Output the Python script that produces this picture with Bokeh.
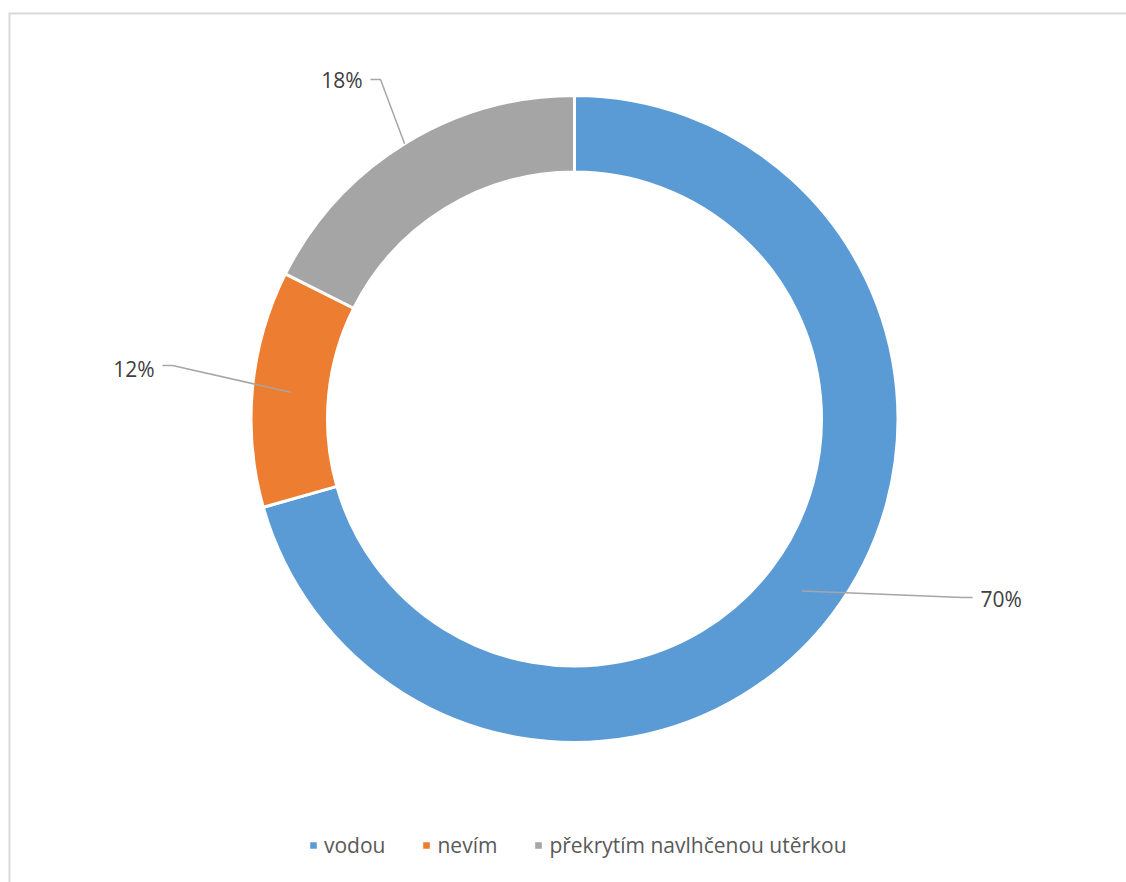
import math
from bokeh.plotting import figure
from bokeh.models import Range1d, ColumnDataSource, Legend, LegendItem
from bokeh.core.properties import value
from bokeh.embed import file_html
from bokeh.resources import INLINE

# ---- data ----
categories = ["vodou", "nevím", "překrytím navlhčenou utěrkou"]
shares = [70.6, 11.8, 17.6]
labels = ["70%", "12%", "18%"]
colors = ["#5B9BD5", "#ED7D31", "#A5A5A5"]

# ---- layout (page pixel coordinates) ----
W, H = 1126, 882
PAGE_H = 882
CX, CY = 574, 418.5
R_OUT, R_IN = 323.5, 247
FONT = "Open Sans"

def py(y):
    return PAGE_H - y

p = figure(width=W, height=H, output_backend="svg", toolbar_location=None,
           x_range=Range1d(0, W), y_range=Range1d(0, H),
           min_border=0, outline_line_color=None)
p.axis.visible = False
p.grid.visible = False

# chart-area border (left and top edges)
p.segment(x0=[9, 8], y0=[py(13), py(13)], x1=[9, W], y1=[0, py(13)],
          line_color="#D9D9D9", line_width=2)

total = sum(shares)
starts, ends, mids = [], [], []
cum = 0.0
for s in shares:
    a0 = math.pi / 2 - 2 * math.pi * cum / total
    cum += s
    a1 = math.pi / 2 - 2 * math.pi * cum / total
    starts.append(a0)
    ends.append(a1)
    mids.append((a0 + a1) / 2)

src = ColumnDataSource(dict(x=[CX] * 3, y=[py(CY)] * 3, start=starts, end=ends,
                            color=colors, cat=categories))
r = p.annular_wedge(x="x", y="y", inner_radius=R_IN, outer_radius=R_OUT,
                    start_angle="start", end_angle="end", direction="clock",
                    fill_color="color", line_color="white", line_width=3, source=src)

# leader lines + data labels
leader_r = [(R_IN + R_OUT) / 2, (R_IN + R_OUT) / 2, R_OUT]
elbow = [(962, 597, 972, 597), (172, 365, 162, 365), (380, 79, 370, 79)]
lab_pos = [(980, 598, "left"), (154, 368, "right"), (362, 79, "right")]
for i in range(3):
    sx = CX + leader_r[i] * math.cos(mids[i])
    sy = py(CY) + leader_r[i] * math.sin(mids[i])
    ex0, ey0, ex1, ey1 = elbow[i]
    p.line(x=[sx, ex0, ex1], y=[sy, py(ey0), py(ey1)], line_color="#A6A6A6", line_width=1.5)
    lx, ly, al = lab_pos[i]
    p.text(x=[lx], y=[py(ly)], text=[labels[i]], text_font=value(FONT),
           text_font_size="21px", text_color="#404040", text_align=al,
           text_baseline="middle")

legend = Legend(items=[LegendItem(label=categories[i], renderers=[r], index=i) for i in range(3)],
                orientation="horizontal", location=(307, 23),
                glyph_width=12, glyph_height=12, label_standoff=5, spacing=35,
                padding=0, margin=0, border_line_color=None, background_fill_alpha=0,
                label_text_font=FONT, label_text_font_size="21px",
                label_text_color="#595959", label_height=24)
p.add_layout(legend)

open("out.html", "w").write(file_html(p, INLINE))
